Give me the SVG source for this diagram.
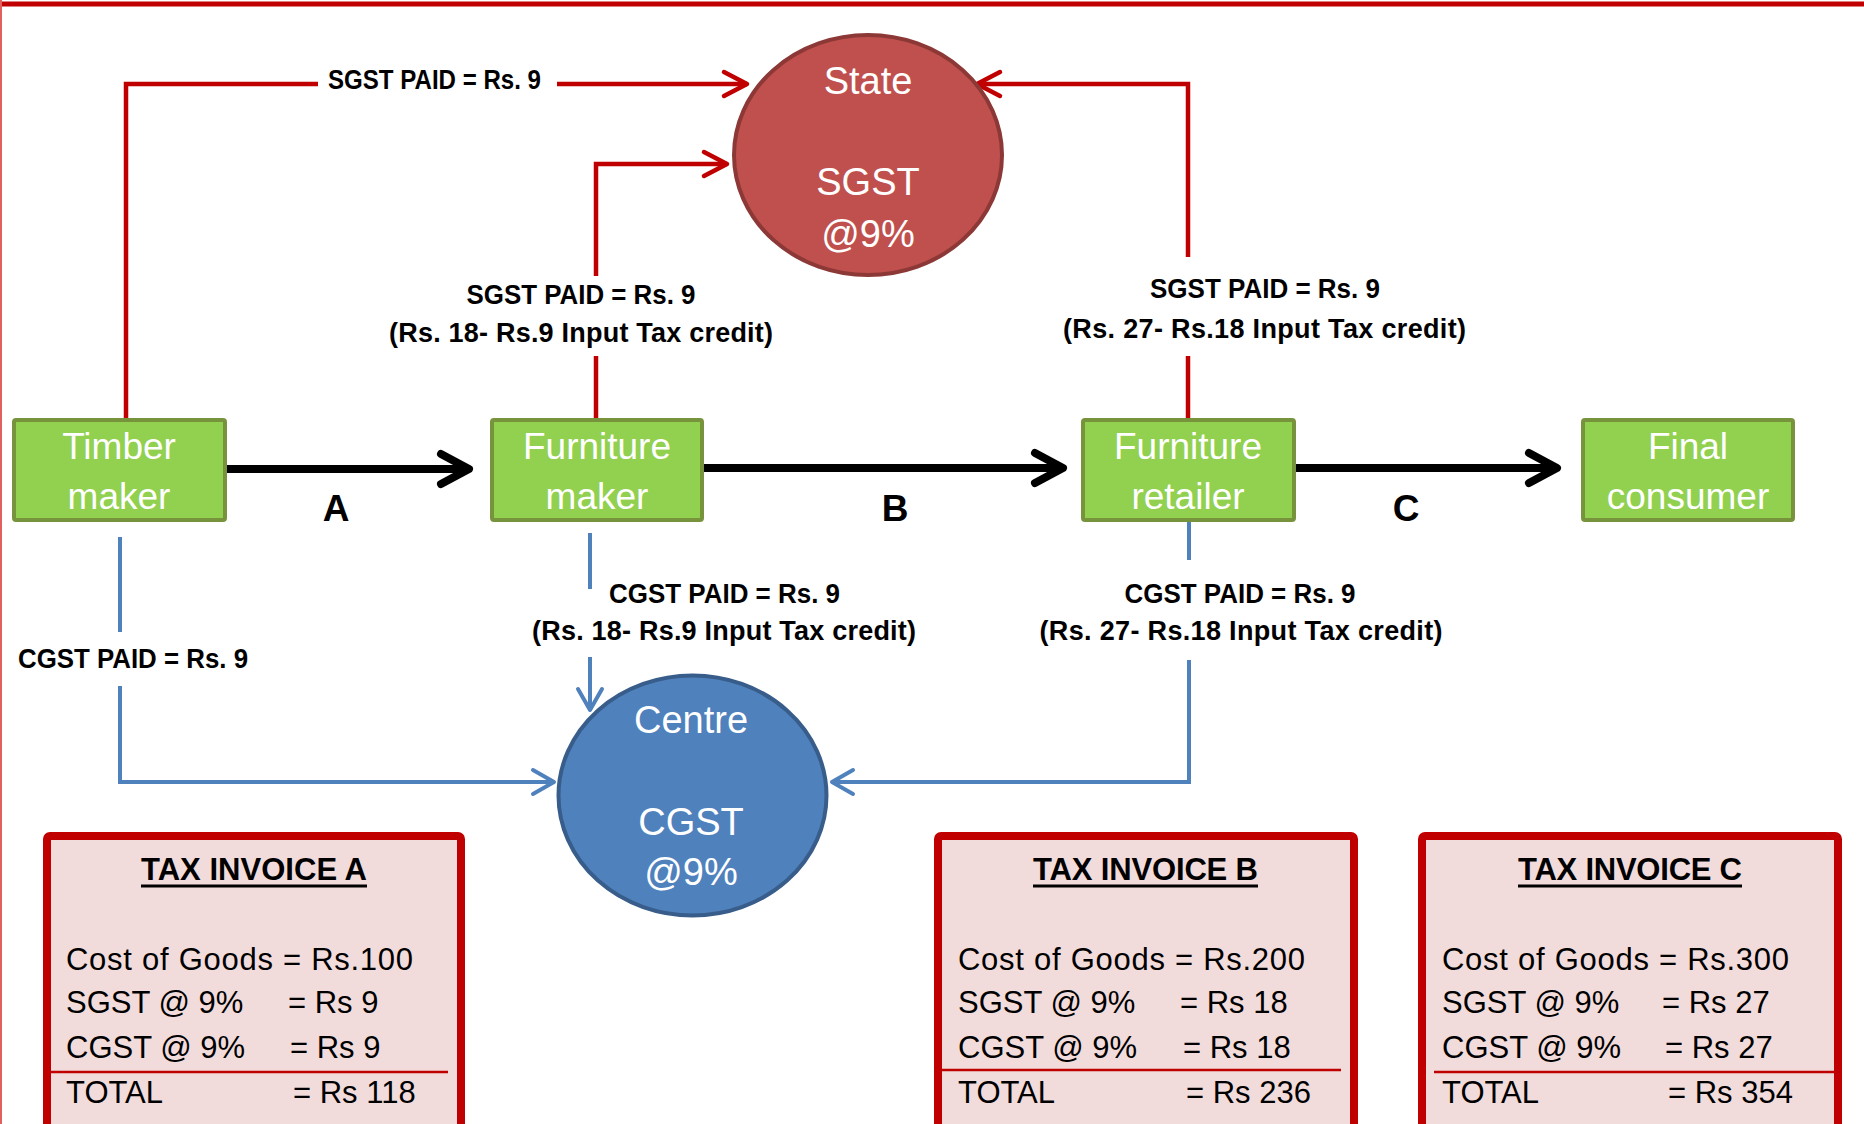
<svg xmlns="http://www.w3.org/2000/svg" width="1864" height="1124" viewBox="0 0 1864 1124">
  <style>
    .box { fill: #92d050; stroke: #77933c; stroke-width: 4; }
    .boxtxt { font-family: "Liberation Sans", Arial, sans-serif; font-size: 37px; fill: #ffffff; text-anchor: middle; }
    .ovaltxt { font-family: "Liberation Sans", Arial, sans-serif; font-size: 38px; fill: #ffffff; text-anchor: middle; }
    .lbl { font-family: "Liberation Sans", Arial, sans-serif; font-size: 27px; font-weight: bold; fill: #000000; text-anchor: middle; }
    .step { font-family: "Liberation Sans", Arial, sans-serif; font-size: 37px; font-weight: bold; fill: #000000; text-anchor: middle; }
    .red { fill: none; stroke: #c00000; stroke-width: 4.5; }
    .blue { fill: none; stroke: #4f81bd; stroke-width: 4; }
    .flow { fill: none; stroke: #000000; stroke-width: 8; }
    .inv { fill: #f2dcdb; stroke: #c00000; stroke-width: 8; }
    .invtitle { font-family: "Liberation Sans", Arial, sans-serif; font-size: 31px; font-weight: bold; fill: #000000; text-anchor: middle; }
    .invtxt { font-family: "Liberation Sans", Arial, sans-serif; font-size: 31px; fill: #000000; }
    .rule { stroke: #c00000; stroke-width: 2.5; }
    .uline { stroke: #000000; stroke-width: 3; }
  </style>
  <defs>
    <marker id="arrRed" markerUnits="userSpaceOnUse" orient="auto" markerWidth="60" markerHeight="60" refX="0" refY="0" overflow="visible">
      <path d="M-23,-12 L0,0 L-23,12" fill="none" stroke="#c00000" stroke-width="4.5" stroke-linecap="round" stroke-linejoin="round"/>
    </marker>
    <marker id="arrBlue" markerUnits="userSpaceOnUse" orient="auto" markerWidth="60" markerHeight="60" refX="0" refY="0" overflow="visible">
      <path d="M-21,-12 L0,0 L-21,12" fill="none" stroke="#4f81bd" stroke-width="4" stroke-linecap="round" stroke-linejoin="round"/>
    </marker>
    <marker id="arrBlack" markerUnits="userSpaceOnUse" orient="auto" markerWidth="80" markerHeight="80" refX="0" refY="0" overflow="visible">
      <path d="M-28,-15 L0,0 L-28,15" fill="none" stroke="#000000" stroke-width="8" stroke-linecap="round" stroke-linejoin="round"/>
    </marker>
  </defs>

  <rect x="0" y="0" width="1864" height="1124" fill="#ffffff"/>
  <!-- page frame -->
  <line x1="0" y1="4" x2="1864" y2="4" stroke="#c00000" stroke-width="5"/>
  <line x1="1" y1="0" x2="1" y2="1124" stroke="#e06060" stroke-width="2"/>

  <!-- connectors -->
  <g id="connectors">
    <!-- SGST payments to State -->
    <path class="red" d="M126,418 V84 H318"/>
    <path class="red" d="M557,84 H747" marker-end="url(#arrRed)"/>
    <path class="red" d="M596,418 V356"/>
    <path class="red" d="M596,276 V164 H727" marker-end="url(#arrRed)"/>
    <path class="red" d="M1188,418 V356"/>
    <path class="red" d="M1188,257 V84 H977" marker-end="url(#arrRed)"/>
    <!-- CGST payments to Centre -->
    <path class="blue" d="M120,537 V632"/>
    <path class="blue" d="M120,686 V782 H554" marker-end="url(#arrBlue)"/>
    <path class="blue" d="M590,533 V589"/>
    <path class="blue" d="M590,657 V710" marker-end="url(#arrBlue)"/>
    <path class="blue" d="M1189,521 V560"/>
    <path class="blue" d="M1189,660 V782 H832" marker-end="url(#arrBlue)"/>
    <!-- supply chain -->
    <path class="flow" d="M227,469 H469" marker-end="url(#arrBlack)"/>
    <path class="flow" d="M704,468 H1063" marker-end="url(#arrBlack)"/>
    <path class="flow" d="M1296,468 H1557" marker-end="url(#arrBlack)"/>

    <text class="lbl" x="434.5" y="89" font-size="25" textLength="213" lengthAdjust="spacingAndGlyphs">SGST PAID = Rs. 9</text>
    <text class="lbl" x="581" y="304" textLength="229" lengthAdjust="spacingAndGlyphs">SGST PAID = Rs. 9</text>
    <text class="lbl" x="581" y="342" textLength="384">(Rs. 18- Rs.9 Input Tax credit)</text>
    <text class="lbl" x="1265" y="298" textLength="230" lengthAdjust="spacingAndGlyphs">SGST PAID = Rs. 9</text>
    <text class="lbl" x="1264.5" y="338" textLength="403">(Rs. 27- Rs.18 Input Tax credit)</text>
    <text class="lbl" x="133" y="668" textLength="230" lengthAdjust="spacingAndGlyphs">CGST PAID = Rs. 9</text>
    <text class="lbl" x="724.5" y="603" textLength="231" lengthAdjust="spacingAndGlyphs">CGST PAID = Rs. 9</text>
    <text class="lbl" x="724" y="640" textLength="384">(Rs. 18- Rs.9 Input Tax credit)</text>
    <text class="lbl" x="1240" y="603" textLength="231" lengthAdjust="spacingAndGlyphs">CGST PAID = Rs. 9</text>
    <text class="lbl" x="1241" y="640" textLength="403">(Rs. 27- Rs.18 Input Tax credit)</text>

    <text class="step" x="336" y="521">A</text>
    <text class="step" x="895" y="521">B</text>
    <text class="step" x="1406" y="521">C</text>
  </g>

  <!-- traders -->
  <g id="timber-maker">
    <rect class="box" x="14" y="420" width="211" height="100" rx="2"/>
    <text class="boxtxt" x="119" y="459">Timber</text>
    <text class="boxtxt" x="119" y="509">maker</text>
  </g>
  <g id="furniture-maker">
    <rect class="box" x="492" y="420" width="210" height="100" rx="2"/>
    <text class="boxtxt" x="597" y="459">Furniture</text>
    <text class="boxtxt" x="597" y="509">maker</text>
  </g>
  <g id="furniture-retailer">
    <rect class="box" x="1083" y="420" width="211" height="100" rx="2"/>
    <text class="boxtxt" x="1188" y="459">Furniture</text>
    <text class="boxtxt" x="1188" y="509">retailer</text>
  </g>
  <g id="final-consumer">
    <rect class="box" x="1583" y="420" width="210" height="100" rx="2"/>
    <text class="boxtxt" x="1688" y="459">Final</text>
    <text class="boxtxt" x="1688" y="509">consumer</text>
  </g>

  <!-- governments -->
  <g id="state">
    <ellipse cx="868" cy="155" rx="134" ry="120" fill="#c0504d" stroke="#8c3836" stroke-width="4"/>
    <text class="ovaltxt" x="868" y="94">State</text>
    <text class="ovaltxt" x="868" y="195">SGST</text>
    <text class="ovaltxt" x="868" y="247">@9%</text>
  </g>
  <g id="centre">
    <ellipse cx="692.5" cy="795.5" rx="134" ry="120" fill="#4f81bd" stroke="#385d8a" stroke-width="4"/>
    <text class="ovaltxt" x="691" y="733">Centre</text>
    <text class="ovaltxt" x="691" y="835">CGST</text>
    <text class="ovaltxt" x="691" y="885">@9%</text>
  </g>

  <!-- tax invoices -->
  <g id="invoice-a">
    <rect class="inv" x="47" y="836" width="414" height="292" rx="3"/>
    <text class="invtitle" x="254" y="880" textLength="226">TAX INVOICE A</text>
    <line class="uline" x1="141" y1="886" x2="367" y2="886"/>
    <text class="invtxt" x="66" y="970" textLength="347">Cost of Goods = Rs.100</text>
    <text class="invtxt" x="66" y="1013">SGST @ 9%</text>
    <text class="invtxt" x="288" y="1013">= Rs 9</text>
    <text class="invtxt" x="66" y="1058">CGST @ 9%</text>
    <text class="invtxt" x="290" y="1058">= Rs 9</text>
    <line class="rule" x1="50" y1="1072" x2="448" y2="1072"/>
    <text class="invtxt" x="66" y="1103">TOTAL</text>
    <text class="invtxt" x="293" y="1103">= Rs 118</text>
  </g>
  <g id="invoice-b">
    <rect class="inv" x="938" y="836" width="416" height="292" rx="3"/>
    <text class="invtitle" x="1145.5" y="880" textLength="225">TAX INVOICE B</text>
    <line class="uline" x1="1033" y1="886" x2="1258" y2="886"/>
    <text class="invtxt" x="958" y="970" textLength="347">Cost of Goods = Rs.200</text>
    <text class="invtxt" x="958" y="1013">SGST @ 9%</text>
    <text class="invtxt" x="1180" y="1013">= Rs 18</text>
    <text class="invtxt" x="958" y="1058">CGST @ 9%</text>
    <text class="invtxt" x="1183" y="1058">= Rs 18</text>
    <line class="rule" x1="942" y1="1070" x2="1341" y2="1070"/>
    <text class="invtxt" x="958" y="1103">TOTAL</text>
    <text class="invtxt" x="1186" y="1103">= Rs 236</text>
  </g>
  <g id="invoice-c">
    <rect class="inv" x="1422" y="836" width="416" height="292" rx="3"/>
    <text class="invtitle" x="1630" y="880" textLength="224">TAX INVOICE C</text>
    <line class="uline" x1="1518" y1="886" x2="1742" y2="886"/>
    <text class="invtxt" x="1442" y="970" textLength="347">Cost of Goods = Rs.300</text>
    <text class="invtxt" x="1442" y="1013">SGST @ 9%</text>
    <text class="invtxt" x="1662" y="1013">= Rs 27</text>
    <text class="invtxt" x="1442" y="1058">CGST @ 9%</text>
    <text class="invtxt" x="1665" y="1058">= Rs 27</text>
    <line class="rule" x1="1434" y1="1072" x2="1834" y2="1072"/>
    <text class="invtxt" x="1442" y="1103">TOTAL</text>
    <text class="invtxt" x="1668" y="1103">= Rs 354</text>
  </g>
</svg>
